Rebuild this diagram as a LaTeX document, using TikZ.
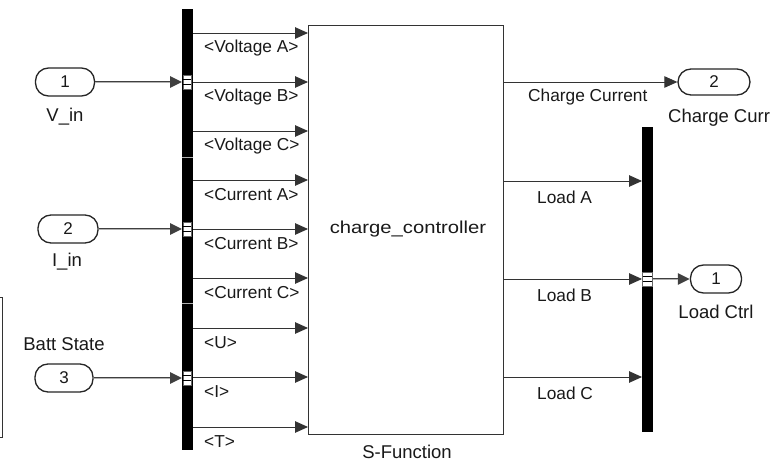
\documentclass[tikz,border=0pt]{standalone}
\usepackage{fontspec}
\setmainfont{Liberation Sans}
\usetikzlibrary{arrows.meta}
\begin{document}
\begin{tikzpicture}[x=1pt,y=-1pt,
  lbl/.style={font=\fontsize{17.3}{17.3}\selectfont, text=black!90, inner sep=0pt},
  bname/.style={font=\fontsize{18.5}{18.5}\selectfont, text=black!90, inner sep=0pt},
  pill/.style={draw=black!85, line width=1.3pt, fill=white, rounded corners=13pt, minimum height=28pt, inner sep=0pt, font=\fontsize{17}{17}\selectfont, text=black!90},
  busbar/.style={fill=black, draw=none, inner sep=0pt, minimum width=10.5pt},
  sig/.style={draw=black!80, line width=0.9pt, -{Triangle[length=13pt,width=11.5pt]}},
  busline/.style={draw=black!75, line width=2.6pt, -{Triangle[length=12pt,width=11pt]}},
  buscore/.style={draw=black!30, line width=0.7pt},
  portmk/.style={fill=white, draw=black!60, line width=0.4pt},
]
\clip (0,0) rectangle (777,462);
\fill[white] (0,0) rectangle (777,462);

% partial box at left edge
\draw[black!80, line width=1pt] (-5,298) -- (2,298) -- (2,437) -- (-5,437);

% bus bars
\node[busbar, minimum height=441pt, anchor=north west] (lb) at (182,9) {};
\node[busbar, minimum height=305pt, anchor=north west] (rb) at (642,127) {};
\draw[gray!60, line width=0.6pt] (lb.west |- 0,157) -- (lb.east |- 0,157);
\draw[gray!60, line width=0.6pt] (lb.west |- 0,303) -- (lb.east |- 0,303);

% S-Function block
\node[draw=black!80, line width=1.2pt, fill=white, minimum width=195pt, minimum height=409pt, anchor=north west, inner sep=0pt] (blk) at (308,25) {};
\node[font=\fontsize{17.3}{17.3}\selectfont, text=black!90, inner sep=0pt] (bt) at (408,229) {\scalebox{1.17}[1]{charge\_controller}};
\node[bname] (sf) at (407,452) {S-Function};

% inports
\node[pill, minimum width=59pt] (in1) at (65,82) {1};
\node[pill, minimum width=60pt] (in2) at (68,229) {2};
\node[pill, minimum width=58pt] (in3) at (64,378) {3};
\node[bname] (lv) at (65,117) {V\_in};
\node[bname] (li) at (67,262) {I\_in};
\node[bname] (lbs) at (64,344) {Batt State};

% outports
\node[pill, minimum width=72pt, minimum height=26pt] (out2) at (714,82) {2};
\node[pill, minimum width=51pt] (out1) at (716,279) {1};
\node[bname, anchor=west] (lcc) at (668,118) {Charge Curr};
\node[bname] (llc) at (716,312) {Load Ctrl};

% bus inputs
\foreach \p in {in1,in2,in3}{
  \draw[busline] (\p.east) -- (lb.west |- \p.east);
  \draw[buscore, shorten >=12pt] (\p.east) -- (lb.west |- \p.east);
}
\foreach \y in {82,229,378}{
  \draw[portmk] (183,\y-7) rectangle (191,\y+7);
  \draw[black, line width=1.2pt] (183,\y-2.3) -- (191,\y-2.3);
  \draw[black, line width=1.2pt] (183,\y+2.3) -- (191,\y+2.3);
}

% left signals into block
\foreach \y/\t in {33/{<Voltage A>},82/{<Voltage B>},131/{<Voltage C>},180/{<Current A>},229/{<Current B>},278/{<Current C>},328/{<U>},377/{<I>},427/{<T>}}{
  \draw[sig] (lb.east |- 0,\y) -- (blk.west |- 0,\y);
  \node[lbl, anchor=west] at (204,\y+15) {\t};
}

% right side
\draw[sig] (blk.east |- out2.west) -- (out2.west);
\node[lbl, anchor=west] (lcc2) at (528,97) {Charge Current};
\foreach \y/\t in {181/A,279/B,377/C}{
  \draw[sig] (blk.east |- 0,\y) -- (rb.west |- 0,\y);
  \node[lbl, anchor=west] at (537,\y+16) {Load \t};
}
\draw[busline] (rb.east |- out1.west) -- (out1.west);
\draw[buscore, shorten >=12pt] (rb.east |- out1.west) -- (out1.west);
\draw[portmk] (642.5,272) rectangle (652,286);
\draw[black, line width=1.2pt] (642.5,276.7) -- (652,276.7);
\draw[black, line width=1.2pt] (642.5,281.3) -- (652,281.3);
\end{tikzpicture}
\end{document}
